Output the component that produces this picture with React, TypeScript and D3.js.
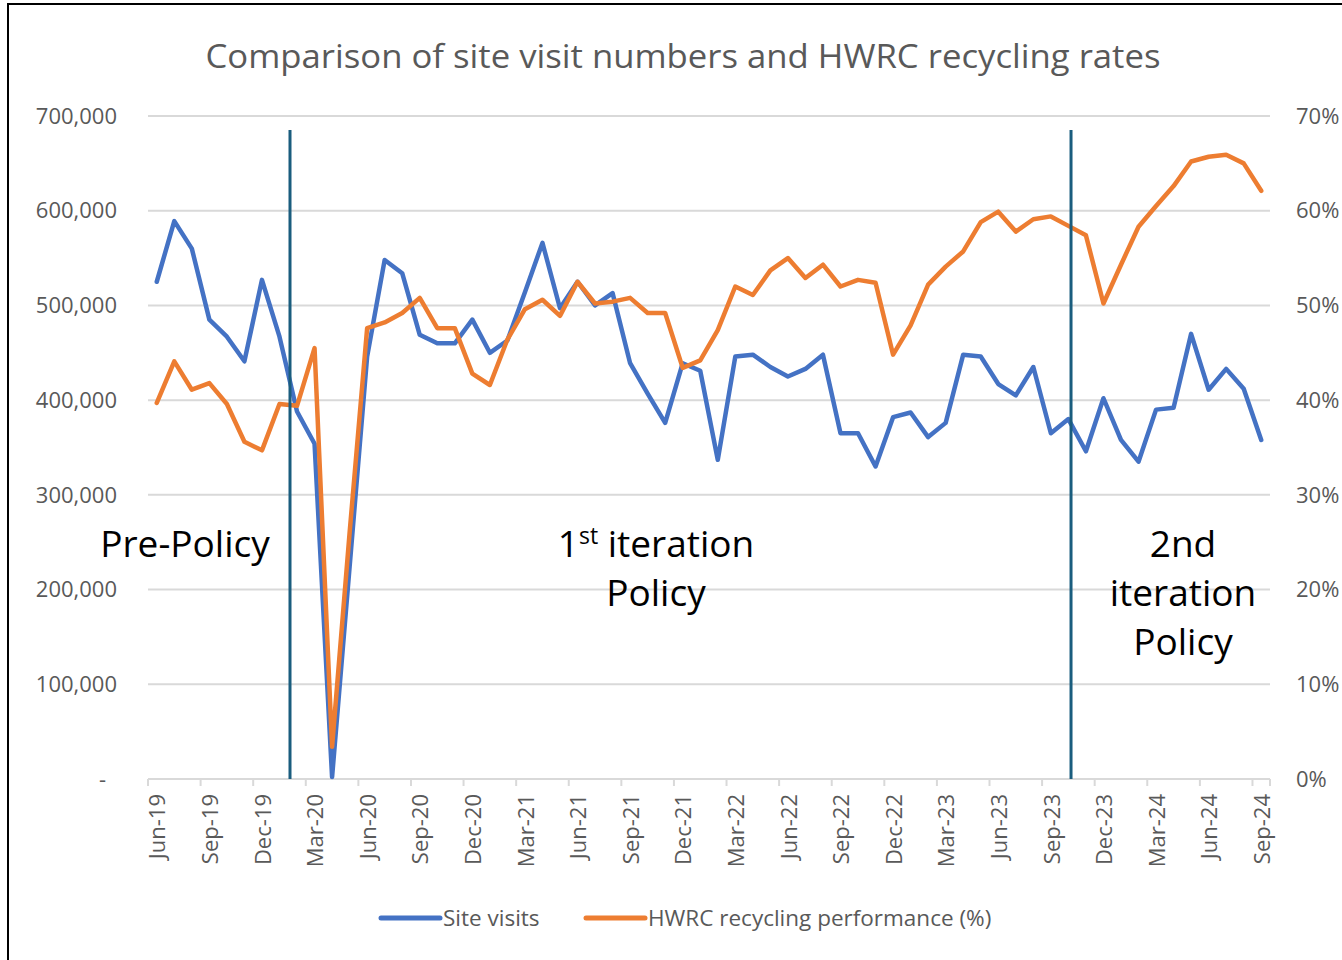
import React from "react";
import * as d3 from "d3";

// months Jun-19 .. Sep-24
const monthNames = ["Jan", "Feb", "Mar", "Apr", "May", "Jun", "Jul", "Aug", "Sep", "Oct", "Nov", "Dec"];
const months: string[] = [];
for (let y = 2019; y <= 2024; y++) {
  for (let m = 0; m < 12; m++) {
    if (y === 2019 && m < 5) continue;
    if (y === 2024 && m > 8) continue;
    months.push(`${monthNames[m]}-${String(y).slice(2)}`);
  }
}

const siteVisits = [
  525000, 589000, 560000, 485000, 467000, 441000, 527000, 467000, 388000, 354000,
  2000, 224000, 446000, 548000, 534000, 469000, 460000, 460000, 485000, 450000,
  463000, 514000, 566000, 497000, 525000, 500000, 513000, 439000, 407000, 376000,
  439000, 431000, 337000, 446000, 448000, 435000, 425000, 433000, 448000, 365000,
  365000, 330000, 382000, 387000, 361000, 376000, 448000, 446000, 417000, 405000,
  435000, 365000, 380000, 346000, 402000, 358000, 335000, 390000, 392000, 470000,
  411000, 433000, 412000, 358000,
];

const recyclingRate = [
  39.7, 44.1, 41.1, 41.8, 39.6, 35.6, 34.7, 39.6, 39.4, 45.5,
  3.4, 26.0, 47.6, 48.2, 49.2, 50.8, 47.6, 47.6, 42.8, 41.6,
  46.4, 49.6, 50.6, 48.9, 52.5, 50.2, 50.4, 50.8, 49.2, 49.2,
  43.4, 44.2, 47.4, 52.0, 51.1, 53.7, 55.0, 52.9, 54.3, 52.0,
  52.7, 52.4, 44.8, 47.9, 52.2, 54.1, 55.7, 58.8, 59.9, 57.8,
  59.1, 59.4, 58.4, 57.4, 50.2, 54.3, 58.3, 60.5, 62.6, 65.2,
  65.7, 65.9, 65.0, 62.1,
];

const leftTicks = [0, 100000, 200000, 300000, 400000, 500000, 600000, 700000];
const rightTicks = [0, 10, 20, 30, 40, 50, 60, 70];
// policy change markers, as positions in month units from Jun-19
const policyBreaks = [7.6, 52.15];

const FONT = "'Open Sans', 'DejaVu Sans', sans-serif";
const GREY = "#595959";
const BLUE = "#4472C4";
const ORANGE = "#ED7D31";
const TEAL = "#1A5D7E";

const App = () => {
  const W = 1342;
  const H = 960;
  const left = 148, right = 1270, top = 116, bottom = 779;

  const x = d3.scaleBand().domain(months).range([left, right]);
  const bw = x.bandwidth();
  const cx = (m: string) => (x(m) as number) + bw / 2;
  const xIdx = d3.scaleLinear().domain([-0.5, months.length - 0.5]).range([left, right]);
  const yL = d3.scaleLinear().domain([0, 700000]).range([bottom, top]);
  const yR = d3.scaleLinear().domain([0, 70]).range([bottom, top]);

  const blueLine = d3.line<number>().x((_, i) => cx(months[i])).y((d) => yL(d))(siteVisits) || "";
  const orangeLine = d3.line<number>().x((_, i) => cx(months[i])).y((d) => yR(d))(recyclingRate) || "";

  const fmt = d3.format(",");
  const tickIdx = months.map((_, i) => i).filter((i) => i % 3 === 0);

  return (
    <div style={{ position: "absolute", left: 0, top: 0 }}>
      <svg width={W} height={H} style={{ display: "block", background: "#fff" }}>
        <rect x={8} y={4} width={W + 10} height={H} fill="#fff" stroke="#000" strokeWidth={2} />
        <text x={683} y={68} textAnchor="middle" fontFamily={FONT} fontSize={32} fill={GREY} textLength={955} lengthAdjust="spacingAndGlyphs">
          Comparison of site visit numbers and HWRC recycling rates
        </text>

        {/* gridlines */}
        {leftTicks.map((t) => (
          <line key={t} x1={left} x2={right} y1={yL(t)} y2={yL(t)} stroke="#d9d9d9" strokeWidth={2} />
        ))}
        {/* category ticks */}
        {tickIdx.map((i) => (
          <line key={i} x1={x(months[i]) as number} x2={x(months[i]) as number} y1={bottom} y2={bottom + 7} stroke="#d9d9d9" strokeWidth={2} />
        ))}
        <line x1={right} x2={right} y1={bottom} y2={bottom + 7} stroke="#d9d9d9" strokeWidth={2} />

        {/* left axis labels */}
        {leftTicks.map((t) => (
          <text key={t} x={t === 0 ? 106 : 117} y={yL(t)} dy="0.35em" textAnchor="end" fontFamily={FONT} fontSize={22} fill={GREY}>
            {t === 0 ? "-" : fmt(t)}
          </text>
        ))}
        {/* right axis labels */}
        {rightTicks.map((t) => (
          <text key={t} x={1296} y={yR(t)} dy="0.35em" textAnchor="start" fontFamily={FONT} fontSize={22} fill={GREY}>
            {t}%
          </text>
        ))}
        {/* month labels */}
        {tickIdx.map((i) => (
          <text key={i} transform={`translate(${cx(months[i]) + 1},${bottom + 15}) rotate(-90)`} dy="0.35em" textAnchor="end" fontFamily={FONT} fontSize={22} fill={GREY}>
            {months[i]}
          </text>
        ))}

        {/* series */}
        <path d={blueLine} fill="none" stroke={BLUE} strokeWidth={4.5} strokeLinejoin="round" strokeLinecap="round" />
        <path d={orangeLine} fill="none" stroke={ORANGE} strokeWidth={4.5} strokeLinejoin="round" strokeLinecap="round" />

        {/* policy markers */}
        {policyBreaks.map((p) => (
          <line key={p} x1={xIdx(p)} x2={xIdx(p)} y1={130} y2={bottom} stroke={TEAL} strokeWidth={3} />
        ))}

        {/* annotations */}
        <g fontFamily={FONT} fontSize={37} fill="#000" textAnchor="middle">
          <text x={185} y={557}>Pre-Policy</text>
          <text x={656} y={557}>
            1<tspan fontSize={23} dy={-13}>st</tspan>
            <tspan dy={13}> iteration</tspan>
          </text>
          <text x={656} y={606}>Policy</text>
          <text x={1183} y={557}>2nd</text>
          <text x={1183} y={606}>iteration</text>
          <text x={1183} y={655}>Policy</text>
        </g>

        {/* legend */}
        <line x1={381} x2={440} y1={918} y2={918} stroke={BLUE} strokeWidth={5} strokeLinecap="round" />
        <text x={443} y={918} dy="0.35em" fontFamily={FONT} fontSize={22.5} fill={GREY}>Site visits</text>
        <line x1={586} x2={645} y1={918} y2={918} stroke={ORANGE} strokeWidth={5} strokeLinecap="round" />
        <text x={648} y={918} dy="0.35em" fontFamily={FONT} fontSize={22.5} fill={GREY}>HWRC recycling performance (%)</text>
      </svg>
    </div>
  );
};

export default App;
